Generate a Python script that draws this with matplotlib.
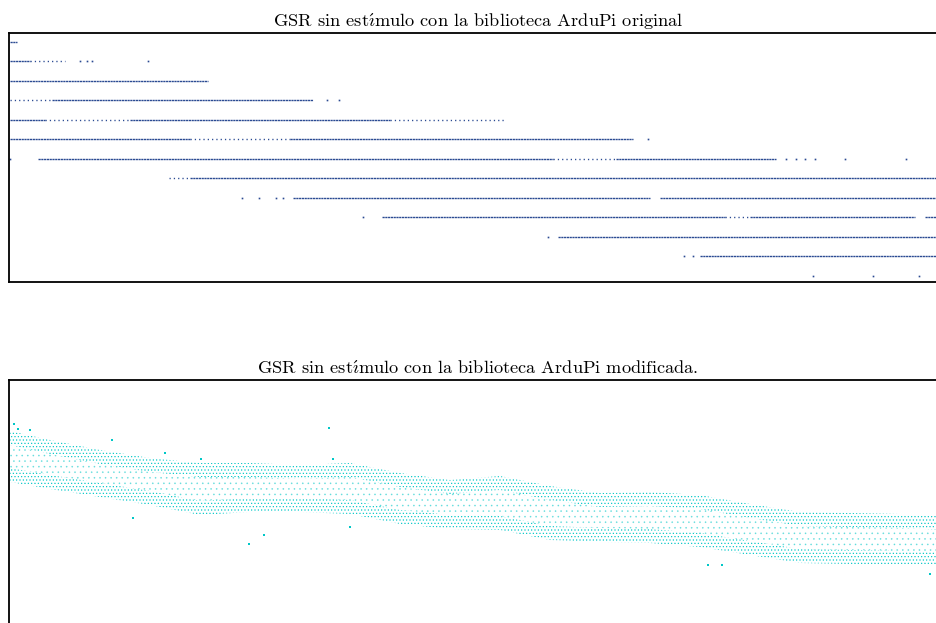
import matplotlib
matplotlib.use("Agg")
import matplotlib.pyplot as plt

plt.rcParams["hatch.linewidth"] = 0.45
plt.rcParams["mathtext.fontset"] = "cm"

title_top = r"GSR sin est$\mathrm{\acute{\imath}}$mulo con la biblioteca ArduPi original"
title_bottom = r"GSR sin est$\mathrm{\acute{\imath}}$mulo con la biblioteca ArduPi modificada."

# ---------------- top panel: quantised levels (0 = lowest, 12 = highest) ----------------
levels = list(range(13))
dense_runs = {
    12: [(1, 8)],
    11: [(1, 21)],
    10: [(1, 199)],
    9: [(43, 304)],
    8: [(1, 36), (121, 381)],
    7: [(1, 181), (281, 624)],
    6: [(29, 544), (607, 767)],
    5: [(181, 938)],
    4: [(284, 641), (651, 938)],
    3: [(373, 716), (741, 906), (916, 938)],
    2: [(549, 938)],
    1: [(691, 938)],
}
sparse_runs = {
    11: [(21, 56)],
    9: [(1, 43)],
    8: [(36, 121), (381, 496)],
    7: [(181, 281)],
    6: [(544, 607)],
    5: [(160, 181)],
    3: [(716, 741)],
}
single_dots = {
    11: [71, 78, 83, 139],
    9: [318, 330],
    7: [639],
    6: [1, 777, 787, 796, 806, 836, 897],
    4: [233, 250, 267, 274],
    3: [354],
    2: [539],
    1: [675, 684],
    0: [804, 864, 910],
}

# ---------------- bottom panel: two noisy bands ----------------
band_x = [1, 41, 91, 141, 191, 241, 291, 341, 391, 441, 491, 541, 591, 641, 691, 741, 791, 841, 891, 938]
upper_band = [185, 176, 166, 158, 153, 153, 151, 153, 143, 136, 140, 130, 123, 124, 121, 112, 104, 103, 102, 100]
lower_band = [148, 141, 133, 125, 115, 118, 118, 116, 106, 101, 100, 90, 88, 87, 83, 75, 67, 66, 65, 65]
outlier_x = [5, 9, 21, 103, 156, 192, 124, 240, 255, 320, 324, 341, 699, 713, 921]
outlier_y = [199, 194, 193, 183, 170, 164, 105, 79, 88, 195, 164, 96, 58, 58, 49]
band_half = 7

top_color = "#2a4a92"
cyan = (0.0, 0.78, 0.78)
title_font = ["cmr10", "DejaVu Serif"]

fig = plt.figure(figsize=(9.36, 6.23), dpi=100)
W = 938.0 / 936.0
ax1 = fig.add_axes([9 / 936, 1 - 282 / 623, W, 249 / 623])
ax2 = fig.add_axes([9 / 936, 0.0, W, 243 / 623])

for lev in levels:
    for (a, b) in dense_runs.get(lev, []):
        ax1.plot([a, b], [lev, lev], color=top_color, lw=1.0,
                 dashes=(1.6, 0.4), dash_capstyle="butt")
    for (a, b) in sparse_runs.get(lev, []):
        ax1.plot([a, b], [lev, lev], color=top_color, lw=1.0,
                 dashes=(0.9, 2.2), dash_capstyle="butt")
    xs = single_dots.get(lev, [])
    if xs:
        ax1.plot(xs, [lev] * len(xs), ls="none", marker="s", ms=1.2,
                 mew=0, color=top_color)

ax1.set_xlim(0, 938)
ax1.set_ylim(-0.31, 12.46)

# bottom bands drawn as dot-hatched regions
up_hi = [v + band_half for v in upper_band]
up_lo = [v - band_half for v in upper_band]
lo_hi = [v + band_half for v in lower_band]
lo_lo = [v - band_half for v in lower_band]
ax2.fill_between(band_x, up_lo, up_hi, facecolor="none", edgecolor=cyan,
                 hatch=".....", lw=0)
ax2.fill_between(band_x, lo_lo, lo_hi, facecolor="none", edgecolor=cyan,
                 hatch=".....", lw=0)
ax2.fill_between(band_x, lo_hi, up_lo, facecolor="none",
                 edgecolor=(0.0, 0.78, 0.78, 0.45), hatch="...", lw=0)
ax2.plot(outlier_x, outlier_y, ls="none", marker="s", ms=1.5, mew=0, color=cyan)
ax2.set_xlim(0, 938)
ax2.set_ylim(0, 243)

for ax, t in ((ax1, title_top), (ax2, title_bottom)):
    ax.set_xticks([])
    ax.set_yticks([])
    ax.spines["right"].set_visible(False)
    for s in ax.spines.values():
        s.set_linewidth(1.3)
        s.set_color("black")
    ax.set_title(t, fontsize=13.2, fontfamily=title_font, pad=4)
ax2.spines["bottom"].set_visible(False)

fig.savefig("out.png", dpi=100)
